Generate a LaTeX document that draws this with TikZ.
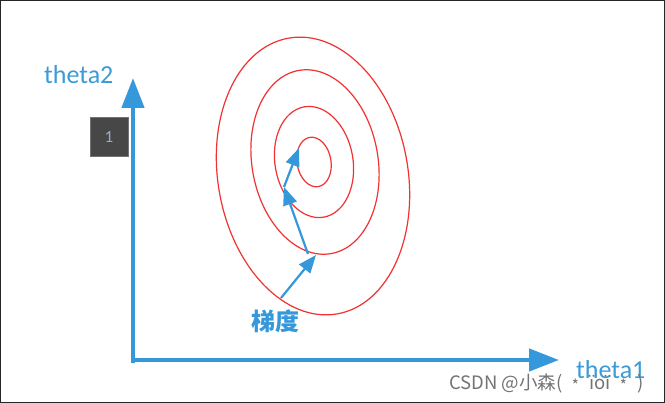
\documentclass[tikz,border=0pt]{standalone}
\usepackage{fontspec}
\setmainfont{Carlito}
\newfontfamily\cjk{Noto Sans CJK SC}
\usetikzlibrary{arrows.meta}
\definecolor{axblue}{RGB}{52,152,219}
\definecolor{txtblue}{RGB}{60,155,215}
\definecolor{ellred}{RGB}{240,50,50}
\definecolor{onecol}{RGB}{150,175,200}
\tikzset{
  axis/.style={draw=axblue, line width=4.5pt, -{Triangle[length=30pt,width=22pt]}},
  grad/.style={draw=axblue, line width=2.2pt, -{Triangle[length=18pt,width=14pt]}},
  ring/.style={draw=ellred, line width=1.2pt},
  axlabel/.style={text=txtblue, font=\fontsize{26}{28}\selectfont, inner sep=0pt},
}
\begin{document}
\begin{tikzpicture}[x=1pt,y=-1pt]
\path[use as bounding box, draw=black!85, line width=1pt, fill=white] (0.5,0.5) rectangle (664.5,402.5);
% axes
\coordinate (ytip) at (133,78);
\coordinate (xtip) at (559,360);
\coordinate (ystart) at (133,363);
\coordinate (xstart) at (131,360);
\draw[axis] (ystart) -- (ytip);
\draw[axis] (xstart) -- (xtip);
\node[axlabel, anchor=west] (t2) at (44,75) {theta2};
\node[axlabel, anchor=west] (t1) at (576,370) {theta1};
% box
\node[fill=black!72, draw=black!55, minimum width=38pt, minimum height=39pt, inner sep=0pt,
      text=onecol, font=\fontsize{17}{19}\selectfont] (box) at (109,137) {1};
% ellipses
\draw[ring, rotate around={10:(313,176)}] (313,176) ellipse [x radius=95, y radius=140];
\draw[ring, rotate around={10:(315,162)}] (315,162) ellipse [x radius=63, y radius=93];
\draw[ring, rotate around={10:(314,162)}] (314,162) ellipse [x radius=39, y radius=56];
\draw[ring, rotate around={10:(314,162)}] (314,162) ellipse [x radius=17, y radius=25];
% gradient steps
\node[text=axblue, font=\cjk\bfseries\fontsize{24}{26}\selectfont, inner sep=0pt] (lbl) at (275,321) {梯度};
\coordinate (p0) at (281,298);
\coordinate (p1) at (316,255);
\coordinate (p1s) at (308,254);
\coordinate (p2) at (284,187);
\coordinate (p3) at (299,148);
\draw[grad] (p0) -- (p1);
\draw[grad] (p1s) -- (p2);
\draw[grad] (p2) -- (p3);
% watermark
\node[anchor=west, text=black!55, font=\cjk\fontsize{18.5}{20}\selectfont, inner sep=0pt] (wm) at (449,384) {CSDN @小森( ﹡ ïoï ﹡ )};
\end{tikzpicture}
\end{document}
